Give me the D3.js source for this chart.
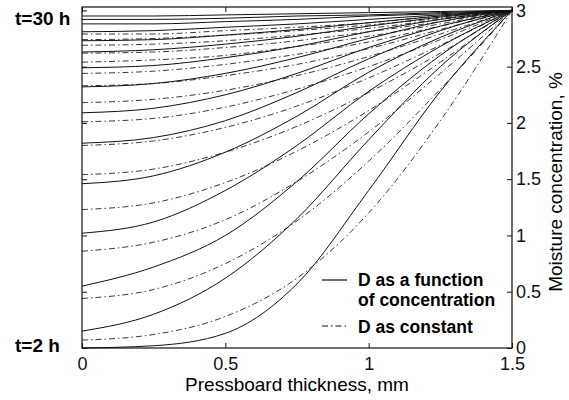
<!DOCTYPE html>
<html>
<head>
<meta charset="utf-8">
<script src="https://cdn.jsdelivr.net/npm/d3@7"></script>
<style>
  body { margin: 0; background: #fff; }
  svg { display: block; font-family: Arial, "Liberation Sans", Helvetica, sans-serif; }
</style>
</head>
<body>
<svg id="chart" width="569" height="400"></svg>
<script>
// pressboard thickness (mm) where the profiles are read
var thickness = [0, 0.25, 0.5, 0.75, 1.0, 1.25, 1.5];
// drying times, one profile per time
var hours = [2, 4, 6, 8, 10, 12, 14, 16, 18, 20, 22, 24, 26, 28, 30];

// moisture %, D as a function of concentration (solid)
var moistureVariableD = [
    [0.00, 0.02, 0.13, 0.57, 1.40, 2.28, 3],
    [0.15, 0.30, 0.62, 1.15, 1.85, 2.50, 3],
    [0.55, 0.72, 1.00, 1.48, 2.08, 2.60, 3],
    [1.02, 1.12, 1.40, 1.80, 2.28, 2.68, 3],
    [1.46, 1.53, 1.74, 2.06, 2.45, 2.76, 3],
    [1.82, 1.87, 2.02, 2.27, 2.57, 2.82, 3],
    [2.09, 2.13, 2.25, 2.44, 2.67, 2.86, 3],
    [2.32, 2.35, 2.44, 2.58, 2.75, 2.90, 3],
    [2.49, 2.51, 2.58, 2.68, 2.81, 2.92, 3],
    [2.63, 2.65, 2.70, 2.77, 2.86, 2.94, 3],
    [2.73, 2.74, 2.78, 2.83, 2.89, 2.95, 3],
    [2.81, 2.82, 2.85, 2.88, 2.92, 2.96, 3],
    [2.88, 2.88, 2.90, 2.92, 2.95, 2.97, 3],
    [2.92, 2.92, 2.93, 2.95, 2.96, 2.98, 3],
    [2.95, 2.95, 2.96, 2.97, 2.98, 2.99, 3]
];

// moisture %, D as constant (dash-dot)
var moistureConstantD = [
    [0.07, 0.12, 0.28, 0.62, 1.20, 2.02, 3],
    [0.44, 0.52, 0.75, 1.13, 1.66, 2.30, 3],
    [0.86, 0.94, 1.14, 1.48, 1.92, 2.44, 3],
    [1.23, 1.29, 1.47, 1.75, 2.11, 2.54, 3],
    [1.54, 1.59, 1.74, 1.97, 2.27, 2.62, 3],
    [1.80, 1.84, 1.96, 2.15, 2.40, 2.69, 3],
    [2.01, 2.04, 2.14, 2.30, 2.50, 2.74, 3],
    [2.18, 2.21, 2.29, 2.42, 2.59, 2.79, 3],
    [2.33, 2.35, 2.42, 2.52, 2.66, 2.83, 3],
    [2.44, 2.46, 2.52, 2.61, 2.72, 2.86, 3],
    [2.54, 2.56, 2.60, 2.68, 2.77, 2.88, 3],
    [2.62, 2.63, 2.67, 2.73, 2.81, 2.90, 3],
    [2.69, 2.70, 2.73, 2.78, 2.84, 2.92, 3],
    [2.74, 2.75, 2.78, 2.82, 2.87, 2.93, 3],
    [2.79, 2.79, 2.82, 2.85, 2.89, 2.95, 3]
];

var xTicks = [0, 0.5, 1, 1.5];
var yTicks = [0, 0.5, 1, 1.5, 2, 2.5, 3];

var svg = d3.select("#chart");
var plotLeft = 82, plotRight = 512, plotTop = 7, plotBottom = 348;

var x = d3.scaleLinear().domain([0, 1.5]).range([plotLeft, plotRight]);
var y = d3.scaleLinear().domain([0, 3.03]).range([plotBottom, plotTop]);

var line = d3.line()
    .x(function(d, i) { return x(thickness[i]); })
    .y(function(d) { return y(d); })
    .curve(d3.curveMonotoneX);

var plot = svg.append("g");

plot.selectAll("path.constant")
    .data(moistureConstantD)
    .enter().append("path")
    .attr("class", "constant")
    .attr("d", line)
    .attr("fill", "none")
    .attr("stroke", "#222")
    .attr("stroke-width", 0.9)
    .attr("stroke-dasharray", "6,3,1.5,3");

plot.selectAll("path.variable")
    .data(moistureVariableD)
    .enter().append("path")
    .attr("class", "variable")
    .attr("d", line)
    .attr("fill", "none")
    .attr("stroke", "#111")
    .attr("stroke-width", 1);

// frame
svg.append("rect")
    .attr("x", plotLeft).attr("y", plotTop)
    .attr("width", plotRight - plotLeft).attr("height", plotBottom - plotTop)
    .attr("fill", "none").attr("stroke", "#111").attr("stroke-width", 1.2);

var fmt = function(d) { return d3.format("")(d); };

svg.append("g")
    .attr("transform", "translate(0," + plotBottom + ")")
    .call(d3.axisBottom(x).tickValues(xTicks).tickFormat(fmt)
        .tickSizeInner(-5).tickSizeOuter(0).tickPadding(9));
svg.append("g")
    .attr("transform", "translate(0," + plotTop + ")")
    .call(d3.axisTop(x).tickValues(xTicks).tickFormat("")
        .tickSizeInner(-5).tickSizeOuter(0));

svg.append("g")
    .attr("transform", "translate(" + plotRight + ",0)")
    .call(d3.axisRight(y).tickValues(yTicks).tickFormat(fmt)
        .tickSizeInner(-5).tickSizeOuter(0).tickPadding(4));
svg.append("g")
    .attr("transform", "translate(" + plotLeft + ",0)")
    .call(d3.axisLeft(y).tickValues(yTicks).tickFormat("")
        .tickSizeInner(-5).tickSizeOuter(0));

svg.selectAll(".domain").remove();
svg.selectAll(".tick line").attr("stroke", "#111");
svg.selectAll(".tick text")
    .attr("fill", "#111")
    .style("font-size", "18px")
    .style("font-family", "Arial, 'Liberation Sans', sans-serif");

// axis titles
svg.append("text")
    .attr("x", 297).attr("y", 391)
    .attr("text-anchor", "middle")
    .style("font-size", "19px")
    .text("Pressboard thickness, mm");

svg.append("text")
    .attr("transform", "translate(562,182) rotate(-90)")
    .attr("text-anchor", "middle")
    .style("font-size", "19px")
    .text("Moisture concentration, %");

// time labels
svg.append("text")
    .attr("x", 15).attr("y", 25)
    .style("font-size", "19px").style("font-weight", "bold")
    .text("t=30 h");
svg.append("text")
    .attr("x", 15).attr("y", 352)
    .style("font-size", "19px").style("font-weight", "bold")
    .text("t=2 h");

// legend
var legend = svg.append("g");
legend.append("line")
    .attr("x1", 322).attr("x2", 347).attr("y1", 280).attr("y2", 280)
    .attr("stroke", "#111").attr("stroke-width", 1.2);
legend.append("line")
    .attr("x1", 322).attr("x2", 348).attr("y1", 326).attr("y2", 326)
    .attr("stroke", "#111").attr("stroke-width", 1.2)
    .attr("stroke-dasharray", "6,3,1.5,3");

var legendText = [
    { x: 358, y: 286, t: "D as a function" },
    { x: 358, y: 306, t: "of concentration" },
    { x: 358, y: 333, t: "D as constant" }
];
legend.selectAll("text")
    .data(legendText)
    .enter().append("text")
    .attr("x", function(d) { return d.x; })
    .attr("y", function(d) { return d.y; })
    .style("font-size", "17.5px").style("font-weight", "bold")
    .text(function(d) { return d.t; });
</script>
</body>
</html>
